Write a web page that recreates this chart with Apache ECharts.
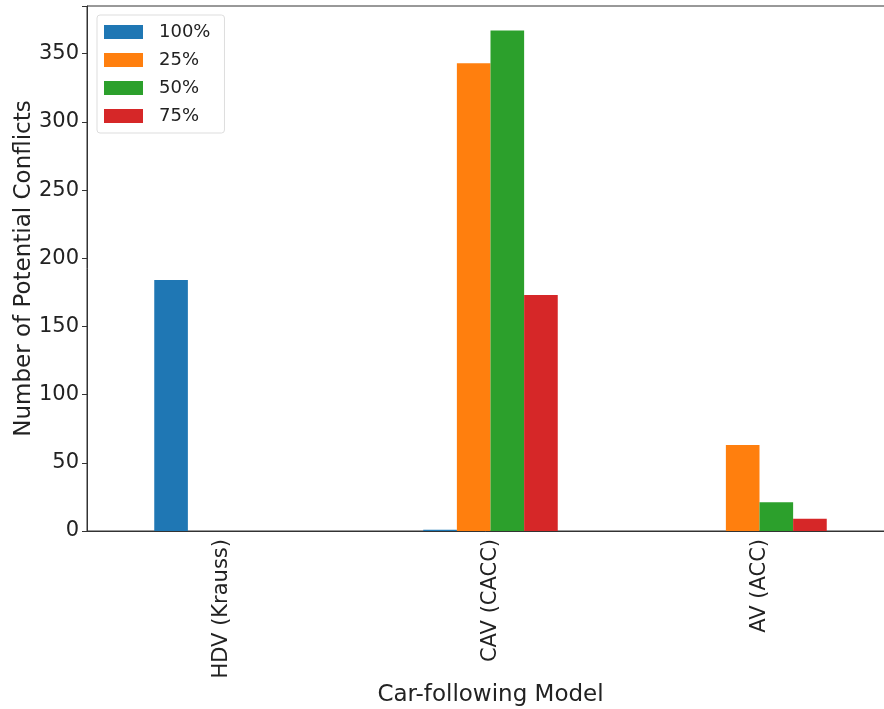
<!DOCTYPE html>
<html>
<head>
<meta charset="utf-8">
<script src="https://cdn.jsdelivr.net/npm/echarts@6/dist/echarts.min.js"></script>
<style>html,body{margin:0;padding:0;background:#fff}#c{width:884px;height:709px}</style>
</head>
<body>
<div id="c"></div>
<script>
const categories = ['HDV (Krauss)', 'CAV (CACC)', 'AV (ACC)'];
const seriesNames = ['100%', '25%', '50%', '75%'];
const s100 = [184, 1, 0];
const s25 = [null, 343, 63];
const s50 = [null, 367, 21];
const s75 = [null, 173, 9];
const yTicks = [0, 50, 100, 150, 200, 250, 300, 350];
const colors = ['#1f77b4', '#ff7f0e', '#2ca02c', '#d62728'];

const font = 'DejaVu Sans';
const values = [s100, s25, s50, s75];
const chart = echarts.init(document.getElementById('c'), null, {renderer: 'canvas'});
chart.setOption({
  animation: false,
  color: colors,
  textStyle: {fontFamily: font},
  grid: {left: 87, right: -10, top: 6, bottom: 178, show: true, borderColor: '#333', borderWidth: 1,
    containLabel: false, outerBoundsMode: 'none'},
  legend: {
    orient: 'vertical', left: 97, top: 15,
    padding: [8, 14, 8, 7],
    itemWidth: 39, itemHeight: 14, itemGap: 10,
    backgroundColor: '#fff', borderColor: '#dddddd', borderWidth: 1, borderRadius: 3,
    icon: 'rect',
    textStyle: {fontSize: 18, color: '#222', fontFamily: font, lineHeight: 18, padding: [0, 0, 0, 11]},
    data: seriesNames
  },
  xAxis: {
    type: 'category', data: categories,
    name: 'Car-following Model', nameLocation: 'middle', nameGap: 153, nameMoveOverlap: false,
    nameTextStyle: {fontSize: 23, color: '#222', fontFamily: font},
    axisLine: {lineStyle: {color: '#333', width: 1}},
    axisTick: {alignWithLabel: true, length: 5, lineStyle: {color: '#333'}},
    axisLabel: {rotate: 90, fontSize: 21, color: '#222', margin: 8, fontFamily: font}
  },
  yAxis: {
    type: 'value', min: 0, max: 385, interval: 50,
    name: 'Number of Potential Conflicts', nameLocation: 'middle', nameGap: 51, nameMoveOverlap: false,
    nameTextStyle: {fontSize: 23, color: '#222', fontFamily: font},
    axisLine: {show: true, lineStyle: {color: '#333', width: 1}},
    axisTick: {show: true, length: 5, lineStyle: {color: '#333'}},
    splitLine: {show: false},
    axisLabel: {fontSize: 21, color: '#222', margin: 8, fontFamily: font,
      formatter: v => yTicks.includes(v) ? String(v) : ''}
  },
  series: seriesNames.map((n, i) => ({
    name: n, type: 'bar', data: values[i],
    barGap: '0%', barCategoryGap: '50%',
    itemStyle: {color: colors[i]}
  }))
});
</script>
</body>
</html>
